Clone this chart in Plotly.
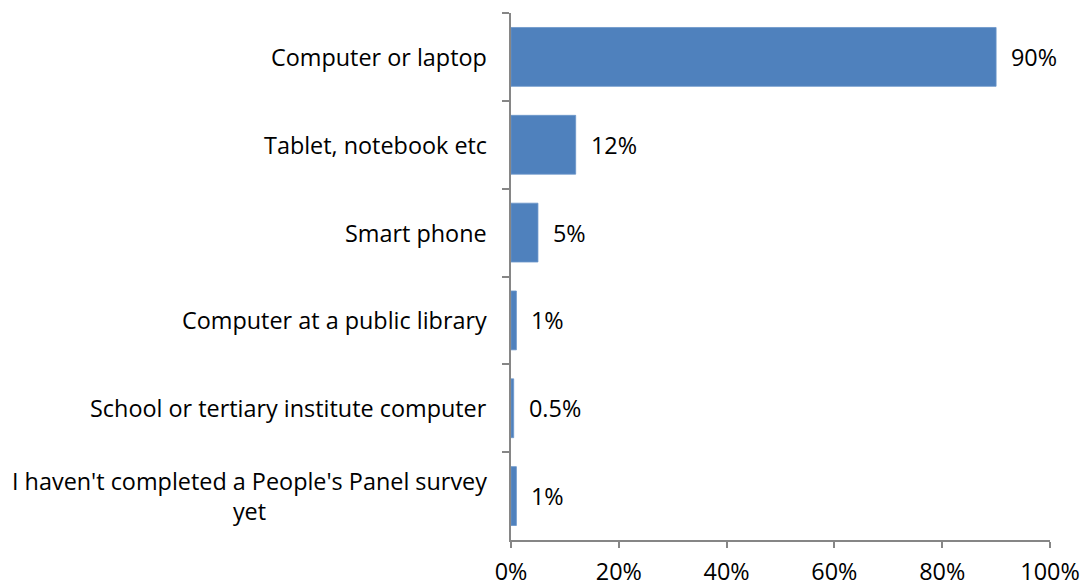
import plotly.graph_objects as go

# Survey: device used to complete People's Panel surveys
categories = [
    "Computer or laptop",
    "Tablet, notebook etc",
    "Smart phone",
    "Computer at a public library",
    "School or tertiary institute computer",
    "I haven't completed a People's Panel survey<br>yet",
]
values = [90, 12, 5, 1, 0.5, 1]
value_labels = ["90%", "12%", "5%", "1%", "0.5%", "1%"]
x_ticks = [0, 20, 40, 60, 80, 100]
x_tick_text = ["0%", "20%", "40%", "60%", "80%", "100%"]

FONT = "Open Sans, Lato, sans-serif"
FONT_SIZE = 23.4
AXIS_GREY = "#868686"

fig = go.Figure(
    go.Bar(
        x=values,
        y=categories,
        orientation="h",
        marker=dict(color="#4F81BD", line=dict(color="#6B95C9", width=0.8)),
        hoverinfo="skip",
    )
)

# value labels to the right of each bar
for cat, v, lab in zip(categories, values, value_labels):
    fig.add_annotation(
        x=v, y=cat, xref="x", yref="y", text=lab, showarrow=False,
        xanchor="left", xshift=13, font=dict(family=FONT, size=FONT_SIZE, color="#000000"),
    )

# category labels, centred line by line
for cat in categories:
    fig.add_annotation(
        x=0, y=cat, xref="paper", yref="y", text=cat, showarrow=False,
        xanchor="right", xshift=-22, align="center",
        font=dict(family=FONT, size=FONT_SIZE, color="#000000"),
    )

fig.update_layout(
    width=1083,
    height=586,
    margin=dict(l=511, r=33, t=13, b=46, autoexpand=False),
    paper_bgcolor="white",
    plot_bgcolor="white",
    bargap=0.33,
    showlegend=False,
    font=dict(family=FONT, size=FONT_SIZE, color="#000000"),
)

fig.update_xaxes(
    range=[0, 100],
    tickvals=x_ticks,
    ticktext=x_tick_text,
    showgrid=False,
    zeroline=False,
    showline=True,
    linecolor=AXIS_GREY,
    linewidth=1.5,
    ticks="outside",
    ticklen=6,
    tickcolor=AXIS_GREY,
    tickwidth=1.5,
    ticklabelstandoff=4,
    automargin=False,
    tickfont=dict(family=FONT, size=FONT_SIZE, color="#000000"),
)

fig.update_yaxes(
    autorange="reversed",
    showgrid=False,
    zeroline=False,
    showline=True,
    linecolor=AXIS_GREY,
    linewidth=1.5,
    ticks="outside",
    ticklen=7,
    tickcolor=AXIS_GREY,
    tickwidth=1.5,
    tickson="boundaries",
    showticklabels=False,
    automargin=False,
)

fig.write_html("out.html")
